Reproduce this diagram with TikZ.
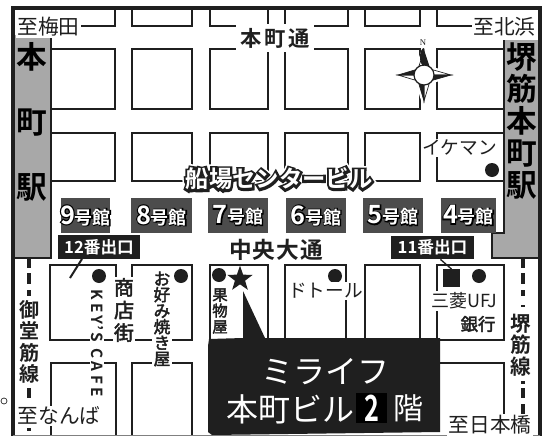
\documentclass[tikz,border=0pt]{standalone}
\usepackage{fontspec}
\usepackage{graphicx}
\setmainfont{Noto Sans CJK JP}[BoldFont={Noto Sans CJK JP Bold}]
\newfontfamily\jpwide{Noto Sans CJK JP Bold}[FakeBold=34]
\newfontfamily\jpfat{Noto Sans CJK JP Bold}[FakeBold=20]
\newfontfamily\jpsemi{Noto Sans CJK JP Bold}[FakeBold=9]
\newfontfamily\jpmed{Noto Sans CJK JP}[FakeBold=2.5]
\usetikzlibrary{calc,shapes.geometric}
\definecolor{ink}{gray}{0.12}
\definecolor{stn}{gray}{0.66}
\definecolor{bldg}{gray}{0.30}
\tikzset{
 x=0.75pt,y=-0.75pt,
 road/.style={draw=ink,line width=1.9pt,line join=miter},
 frameline/.style={draw=ink,line width=2.4pt},
 halo/.style={fill=white,inner sep=1pt,text=ink,align=center},
 plain/.style={inner sep=0pt,text=ink,align=center},
 stationtxt/.style={inner sep=0pt,text=black,align=center,font=\bfseries\fontsize{23pt}{24pt}\selectfont},
 exitbox/.style={fill=ink,inner sep=0pt,minimum height=17.5pt,text=white,font=\bfseries\fontsize{12.5pt}{13pt}\selectfont},
 dotmark/.style={circle,fill=ink,minimum size=10.5pt,inner sep=0pt},
 dashln/.style={draw=ink,line width=3.6pt},
 whitearm/.style={fill=white,draw=ink,line width=0.5pt},
 blackarm/.style={fill=ink,draw=ink,line width=0.5pt},
}
\begin{document}
\begin{tikzpicture}
\useasboundingbox (0,0) rectangle (547,436);
\fill[white] (0,0) rectangle (547,436);
% stations
\fill[stn] (15,35) rectangle (51,258);
\fill[stn] (504,40) rectangle (540,233);
\fill[stn] (492,233) rectangle (540,258);
\draw[road] (51,35) -- (51,258) -- (13,258);
\draw[road] (504,40) -- (504,233) -- (492,233) -- (492,258) -- (540,258);
% blocks
\draw[road] (51,26) -- (115,26) -- (115,8);
\draw[road] (132,8) -- (132,26) -- (192,26) -- (192,8);
\draw[road] (210,8) -- (210,26) -- (268,26) -- (268,8);
\draw[road] (285,8) -- (285,26) -- (348,26) -- (348,8);
\draw[road] (365,8) -- (365,26) -- (420,26) -- (420,8);
\draw[road] (437,8) -- (437,26) -- (504,26);
\draw[road] (51,49) -- (115,49) -- (115,109) -- (51,109);
\draw[road] (132,49) rectangle (192,109);
\draw[road] (210,49) rectangle (268,109);
\draw[road] (285,49) rectangle (348,109);
\draw[road] (365,49) rectangle (420,109);
\draw[road] (504,49) -- (437,49) -- (437,109) -- (504,109);
\draw[road] (51,133) -- (115,133) -- (115,181) -- (51,181);
\draw[road] (132,133) rectangle (192,181);
\draw[road] (210,133) rectangle (268,181);
\draw[road] (285,133) rectangle (348,181);
\draw[road] (365,133) rectangle (420,181);
\draw[road] (504,133) -- (437,133) -- (437,181) -- (504,181);
\draw[road] (50,265) rectangle (116,340);
\draw[road] (132,265) rectangle (192,340);
\draw[road] (210,340) -- (210,265) -- (268,265) -- (268,340);
\draw[road] (285,340) -- (285,265) -- (346,265) -- (346,340);
\draw[road] (365,340) -- (365,265) -- (420,265) -- (420,340);
\draw[road] (437,340) -- (437,265) -- (504,265) -- (504,340) -- (437,340);
\draw[road] (51,436) -- (51,363) -- (116,363) -- (116,436);
\draw[road] (132,436) -- (132,363) -- (192,363) -- (192,436);
\draw[road] (440,363) -- (504,363) -- (504,415);
% dashed roads
\foreach \p/\q in {259/268,273/284,290/296,388/398,428/431}{\draw[dashln] (29,\p) -- (29,\q);}
\foreach \p/\q in {259/268,273/284,290/296,305/307,381/384,388/398,404/415,418/425}{\draw[dashln] (523,\p) -- (523,\q);}
% outer frame
\draw[frameline] (13,436) -- (13,8) -- (540,8) -- (540,436);
\draw[draw=gray,line width=0.8pt] (13,435.5) -- (540,435.5);
% building boxes
\foreach \n/\xa/\xb/\t in {a/61/110/9,b/131/192/8,c/208/268/7,d/286/346/6,e/363/423/5,f/441/496/4}{
 \node[fill=bldg,minimum height=26pt,inner sep=0pt,minimum width={(\xb-\xa)*0.75pt}] (bld\n) at ({(\xa+\xb)/2},215.5) {};
 \node[inner sep=0pt,text=black] (bo\n) at (bld\n) {\jpsemi\fontsize{19pt}{19pt}\selectfont\t\fontsize{13.5pt}{14pt}\selectfont 号館};
 \node[inner sep=0pt,text=white] (bt\n) at (bld\n) {\bfseries\fontsize{19pt}{19pt}\selectfont\t\fontsize{13.5pt}{14pt}\selectfont 号館};}
% main box
\fill[ink] (208,346) -- (209,339) -- (243,338) -- (243,291) -- (265,338) -- (440,338) -- (440,432) -- (212,435) -- (208,432) -- cycle;
\node[inner sep=0pt,text=white,font=\fontsize{24pt}{26pt}\selectfont] (mir) at (325,372) {ミライフ};
\node[inner sep=0pt,text=white,font=\fontsize{24pt}{26pt}\selectfont,anchor=east] (bil) at (355,409) {本町ビル};
\node[fill=black,text=white,inner sep=0pt,minimum width=23pt,minimum height=23pt,font=\bfseries\fontsize{27pt}{27pt}\selectfont] (two) at (371.5,408) {\scalebox{0.7}[1]{2}};
\node[inner sep=0pt,text=white,font=\fontsize{22.5pt}{26pt}\selectfont] (kai) at (408.5,408) {階};
% exits
\node[exitbox,minimum width=61.5pt] (ex12) at (99,247) {12番出口};
\node[exitbox,minimum width=62pt] (ex11) at (432.5,247.5) {11番出口};
\coordinate (e12) at (70,278);
\draw[draw=ink,line width=1.5pt] (ex12.south) ++(-17,0) -- (e12);
\node[fill=ink,minimum size=13pt,inner sep=0pt] (sq) at (451.5,278) {};
\draw[draw=ink,line width=1pt] (ex11.south) ++(8,0) -- (sq.north);
% dots
\node[dotmark] (d1) at (492,170) {};
\node[dotmark] (d2) at (99,276) {};
\node[dotmark] (d3) at (181,276) {};
\node[dotmark] (d4) at (219,275) {};
\node[dotmark] (d5) at (335,276) {};
\node[dotmark] (d6) at (479,276) {};
\node[star,star points=5,star point ratio=2.5,fill=ink,minimum size=20pt,inner sep=0pt] (star) at (240,279) {};
% labels
\node[halo,font=\fontsize{15.5pt}{16pt}\selectfont,anchor=west] (ume) at (16,27) {至梅田};
\node[halo,font=\fontsize{15.5pt}{16pt}\selectfont,anchor=east] (kita) at (537,27) {至北浜};
\node[halo,inner sep=3pt,font=\bfseries\fontsize{16pt}{16pt}\selectfont] (hon) at (275,38) {本\hspace{2pt}町\hspace{2pt}通};
\node[stationtxt] (s1) at (32,57) {本};
\node[stationtxt] (s2) at (32,123) {町};
\node[stationtxt] (s3) at (32,187) {駅};
\node[stationtxt] (s4) at (522,121) {堺\\筋\\本\\町\\駅};
\node[halo,font=\fontsize{14pt}{14pt}\selectfont] (ike) at (459.5,148) {イケマン};
% centre title: white clearance, dark outline, white letters
\node[inner sep=0pt,text=white] (senH) at (279,179) {\jpwide\fontsize{17.5pt}{18pt}\selectfont 船場センタービル};
\node[inner sep=0pt,text=ink] (senO) at (279,179) {\jpfat\fontsize{17.5pt}{18pt}\selectfont 船場センタービル};
\node[inner sep=0pt,text=white,font=\bfseries\fontsize{17.5pt}{18pt}\selectfont] (sen) at (279,179) {船場センタービル};
\node[plain,font=\bfseries\fontsize{17pt}{17pt}\selectfont] (chu) at (276,250) {中\hspace{0.8pt}央\hspace{0.8pt}大\hspace{0.8pt}通};
\node[halo,font=\bfseries\fontsize{15pt}{16pt}\selectfont] (mido) at (30,342) {御\\堂\\筋\\線};
\node[halo,font=\bfseries\fontsize{15.5pt}{16pt}\selectfont] (saka) at (521,345) {堺\\筋\\線};
\node[halo,font=\fontsize{15.5pt}{16pt}\selectfont] (nan) at (59,416) {至なんば};
\node[halo,font=\fontsize{15.5pt}{16pt}\selectfont] (nih) at (490,425) {至日本橋};
\node[halo,font=\jpmed\fontsize{15pt}{17pt}\selectfont] (sho) at (124,310) {商\\店\\街};
\node[halo,font=\jpmed\fontsize{12.5pt}{12pt}\selectfont] (oko) at (162,319) {お\\好\\み\\焼\\き\\屋};
\node[halo,font=\jpmed\fontsize{11.5pt}{12pt}\selectfont] (kud) at (220,311) {果\\物\\屋};
\node[halo,rotate=-90,font=\bfseries\fontsize{11.5pt}{12pt}\selectfont] (key) at (97,343) {K\hspace{2.5pt}E\hspace{2.5pt}Y\hspace{1pt}'\hspace{1pt}S\hspace{5pt}C\hspace{2.5pt}A\hspace{2.5pt}F\hspace{2.5pt}E};
\node[halo,font=\fontsize{14pt}{14pt}\selectfont] (dot) at (325.5,291) {ドトール};
\node[halo,font=\fontsize{13.5pt}{14pt}\selectfont] (mit) at (464,301) {三菱UFJ};
\node[plain,font=\jpmed\fontsize{13pt}{13pt}\selectfont] (gin) at (478,324) {銀行};
% compass
\coordinate (cp) at (424,75);
\fill[white,draw=white,line width=4pt,line join=round] (424,51) -- (430,69) -- (451,75) -- (430,81) -- (424,101) -- (418,81) -- (398,75) -- (418,69) -- cycle;
\draw[whitearm] (424,51) -- (424,75) -- (418,69) -- cycle;
\draw[blackarm] (424,51) -- (424,75) -- (430,69) -- cycle;
\draw[whitearm] (424,101) -- (424,75) -- (430,81) -- cycle;
\draw[blackarm] (424,101) -- (424,75) -- (418,81) -- cycle;
\draw[whitearm] (398,75) -- (424,75) -- (418,81) -- cycle;
\draw[blackarm] (398,75) -- (424,75) -- (418,69) -- cycle;
\draw[whitearm] (451,75) -- (424,75) -- (430,69) -- cycle;
\draw[blackarm] (451,75) -- (424,75) -- (430,81) -- cycle;
\draw[ink,line width=0.9pt,fill=white] (cp) circle (10);
\fill[ink] (424,66) arc (90:270:4 and 9) -- cycle;
\node[inner sep=0pt,text=ink,font=\fontspec{Liberation Serif}\fontsize{6.5pt}{6.5pt}\selectfont] (north) at (423,43) {N};
% small circle
\node[circle,draw=ink,line width=0.5pt,minimum size=4.5pt,inner sep=0pt] (oo) at (4,401) {};
\end{tikzpicture}
\end{document}
